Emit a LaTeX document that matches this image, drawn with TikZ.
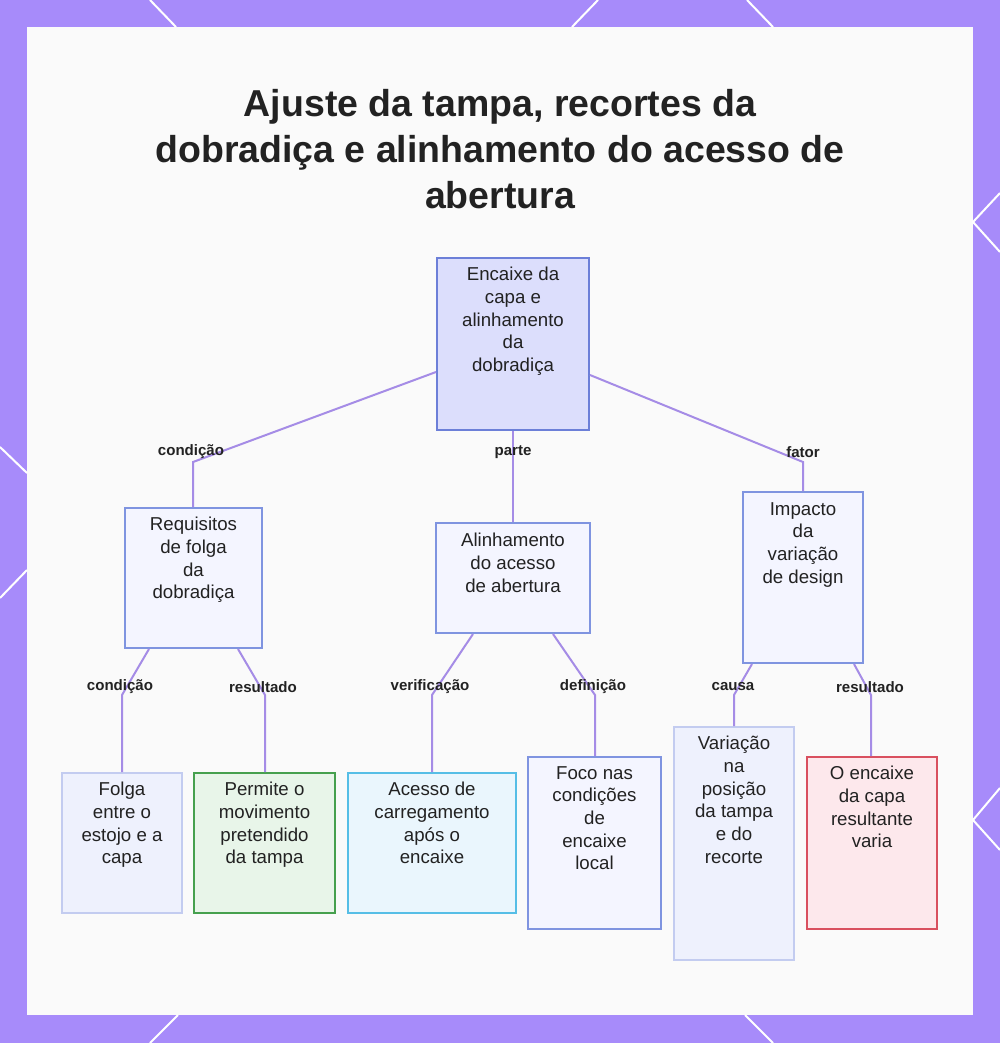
\documentclass[tikz,border=0pt]{standalone}
\usepackage{fontspec}
\setmainfont{Liberation Sans}
\usetikzlibrary{calc}
\definecolor{frame}{HTML}{A78BFA}
\definecolor{panel}{HTML}{FAFAFA}
\definecolor{link}{HTML}{A58CE6}
\definecolor{ink}{HTML}{222222}
\definecolor{rootfill}{HTML}{DCDEFC}
\definecolor{rootline}{HTML}{6C7FD8}
\definecolor{midfill}{HTML}{F4F5FF}
\definecolor{midline}{HTML}{7F94E0}
\definecolor{palefill}{HTML}{EEF1FD}
\definecolor{paleline}{HTML}{C3CCF0}
\definecolor{greenfill}{HTML}{E8F5E9}
\definecolor{greenline}{HTML}{46A04E}
\definecolor{cyanfill}{HTML}{EAF6FD}
\definecolor{cyanline}{HTML}{56BEE6}
\definecolor{redfill}{HTML}{FDE8EC}
\definecolor{redline}{HTML}{D9505F}
\tikzset{
  txt/.style={anchor=north, inner sep=0pt, align=center, text=ink,
    font=\fontsize{14pt}{17pt}\selectfont},
  lbl/.style={inner sep=0pt, text=ink, font=\bfseries\fontsize{11.3pt}{13pt}\selectfont},
  conn/.style={draw=link, line width=1.5pt},
  deco/.style={draw=white, line width=1.5pt}
}
\begin{document}
\begin{tikzpicture}[x=0.75pt, y=-0.75pt]
\useasboundingbox (0,0) rectangle (1000,1043);
% frame and panel
\fill[frame] (0,0) rectangle (1000,1043);
\fill[panel] (27,27) rectangle (973,1015);
% white strokes on the frame
\draw[deco] (150,0) -- (176,27);
\draw[deco] (598,0) -- (572,27);
\draw[deco] (747,0) -- (773,27);
\draw[deco] (1000,193) -- (973,222) -- (1000,252);
\draw[deco] (1000,788) -- (973,820) -- (1000,850);
\draw[deco] (0,447) -- (27,473);
\draw[deco] (27,570) -- (0,598);
\draw[deco] (150,1043) -- (178,1015);
\draw[deco] (745,1015) -- (773,1043);

% title
\node[text=ink, align=center, font=\bfseries\fontsize{28.1pt}{34.5pt}\selectfont]
  (title) at (500,149) {Ajuste da tampa, recortes da\\dobradiça e alinhamento do acesso de\\abertura};

% boxes (top, left, right, bottom in pixels)
\newcommand{\boxat}[6]{%
  \node[draw=#5, fill=#6, line width=1.5pt, inner sep=0pt, minimum width={(#3-#2)*0.75pt}, minimum height={(#4-#1)*0.75pt}]
    at ({(#2+#3)/2},{(#1+#4)/2})}
\boxat{258}{437}{589}{430}{rootline}{rootfill} (root) {};
\boxat{508}{125}{262}{648}{midline}{midfill} (req) {};
\boxat{523}{436}{590}{633}{midline}{midfill} (alin) {};
\boxat{492}{743}{863}{663}{midline}{midfill} (imp) {};
\boxat{773}{62}{182}{913}{paleline}{palefill} (folga) {};
\boxat{773}{194}{335}{913}{greenline}{greenfill} (perm) {};
\boxat{773}{348}{516}{913}{cyanline}{cyanfill} (aces) {};
\boxat{757}{528}{661}{929}{midline}{midfill} (foco) {};
\boxat{727}{674}{794}{960}{paleline}{palefill} (vari) {};
\boxat{757}{807}{937}{929}{redline}{redfill} (enc) {};

% box texts
\node[txt] at ($(root.north)+(0,10)$) {Encaixe da\\capa e\\alinhamento\\da\\dobradiça};
\node[txt] at ($(req.north)+(0,10)$) {Requisitos\\de folga\\da\\dobradiça};
\node[txt] at ($(alin.north)+(0,11)$) {Alinhamento\\do acesso\\de abertura};
\node[txt] at ($(imp.north)+(0,11)$) {Impacto\\da\\variação\\de design};
\node[txt] at ($(folga.north)+(0,10)$) {Folga\\entre o\\estojo e a\\capa};
\node[txt] at ($(perm.north)+(0,10)$) {Permite o\\movimento\\pretendido\\da tampa};
\node[txt] at ($(aces.north)+(0,10)$) {Acesso de\\carregamento\\após o\\encaixe};
\node[txt] at ($(foco.north)+(0,10)$) {Foco nas\\condições\\de\\encaixe\\local};
\node[txt] at ($(vari.north)+(0,10)$) {Variação\\na\\posição\\da tampa\\e do\\recorte};
\node[txt] at ($(enc.north)+(0,10)$) {O encaixe\\da capa\\resultante\\varia};

% bend points
\coordinate (k1) at (193,462);
\coordinate (k3) at (803,462);
\coordinate (k4) at (122,695);
\coordinate (k5) at (265,695);
\coordinate (k6) at (432,695);
\coordinate (k7) at (595,695);
\coordinate (k8) at (734,695);
\coordinate (k9) at (871,695);

% connectors
\draw[conn] ($(root.west)+(0,28)$) -- (k1) -- (req.north -| k1);
\draw[conn] (root.south) -- (alin.north);
\draw[conn] ($(root.east)+(0,31)$) -- (k3) -- (imp.north -| k3);
\draw[conn] ($(req.south west)+(25,0)$) -- (k4) -- (folga.north -| k4);
\draw[conn] ($(req.south east)+(-25,0)$) -- (k5) -- (perm.north -| k5);
\draw[conn] ($(alin.south west)+(38,0)$) -- (k6) -- (aces.north -| k6);
\draw[conn] ($(alin.south east)+(-38,0)$) -- (k7) -- (foco.north -| k7);
\draw[conn] ($(imp.south west)+(10,0)$) -- (k8) -- (vari.north -| k8);
\draw[conn] ($(imp.south east)+(-10,0)$) -- (k9) -- (enc.north -| k9);

% connector labels
\node[lbl] (l1) at (191,452) {condição};
\node[lbl] (l2) at (513,452) {parte};
\node[lbl] (l3) at (803,452) {fator};
\node[lbl] (l4) at (120,687) {condição};
\node[lbl] (l5) at (263,687) {resultado};
\node[lbl] (l6) at (430,687) {verificação};
\node[lbl] (l7) at (593,687) {definição};
\node[lbl] (l8) at (733,687) {causa};
\node[lbl] (l9) at (870,687) {resultado};
\end{tikzpicture}
\end{document}
